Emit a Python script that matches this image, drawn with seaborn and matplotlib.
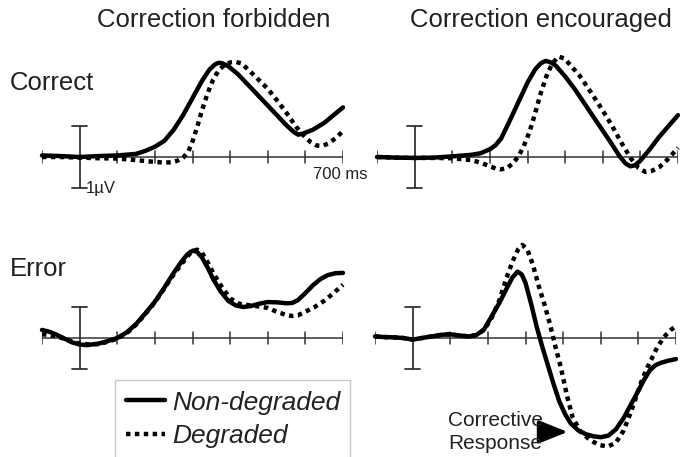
import numpy as np
import pandas as pd
import matplotlib
matplotlib.use('Agg')
import matplotlib.pyplot as plt
import seaborn as sns

sns.set_style('white')
plt.rcParams['font.family'] = ['Liberation Sans', 'DejaVu Sans']

# tiempos (ms) y amplitudes (uV), una serie por curva
t_cf_nd = [-100, -50, 0, 50, 100, 150, 175, 200, 225, 250, 275, 300, 325, 345, 360, 370, 380, 395, 420,
           450, 500, 550, 570, 581, 595, 620, 650, 675, 700]
v_cf_nd = [0.05, 0.03, 0.0, 0.03, 0.05, 0.1, 0.2, 0.33, 0.52, 0.88, 1.35, 1.9, 2.45, 2.82, 2.99, 3.04, 3.02, 2.93, 2.68,
           2.3, 1.66, 1.02, 0.8, 0.72, 0.76, 0.88, 1.1, 1.35, 1.6]
t_cf_deg = [-100, -50, 0, 50, 100, 150, 200, 225, 245, 260, 275, 288, 300, 312, 325, 340, 355, 370, 385, 400,
            414, 430, 450, 475, 500, 525, 550, 575, 600, 615, 630, 645, 660, 680, 700]
v_cf_deg = [0.0, 0.0, -0.02, -0.04, -0.05, -0.1, -0.16, -0.18, -0.17, -0.12, -0.02, 0.15, 0.5, 0.95, 1.5, 2.05, 2.5, 2.8,
            2.97, 3.05, 3.07, 3.02, 2.8, 2.5, 2.2, 1.82, 1.42, 0.98, 0.63, 0.47, 0.37, 0.36, 0.43, 0.6, 0.84]

t_ce_nd = [-100, -50, 0, 50, 100, 150, 175, 200, 215, 230, 250, 275, 300, 320, 335, 348, 360, 375, 400, 425,
           450, 475, 500, 525, 545, 560, 573, 585, 600, 625, 650, 675, 700]
v_ce_nd = [0.0, -0.02, -0.03, -0.02, 0.02, 0.07, 0.12, 0.25, 0.38, 0.6, 1.1, 1.75, 2.4, 2.82, 3.02, 3.1, 3.06, 2.95,
           2.6, 2.2, 1.75, 1.3, 0.85, 0.4, 0.02, -0.2, -0.3, -0.27, -0.12, 0.25, 0.65, 1.0, 1.35]
t_ce_deg = [-100, -50, 0, 50, 100, 150, 175, 200, 215, 228, 245, 260, 275, 290, 305, 320, 335, 350, 365, 382,
            398, 415, 440, 470, 500, 525, 550, 575, 595, 613, 630, 650, 675, 700]
v_ce_deg = [0.0, -0.02, -0.03, -0.03, -0.04, -0.1, -0.18, -0.3, -0.37, -0.4, -0.36, -0.22, 0.0, 0.35, 0.8, 1.4, 2.05,
            2.6, 3.0, 3.24, 3.18, 2.95, 2.6, 2.06, 1.5, 1.0, 0.45, -0.05, -0.35, -0.48, -0.45, -0.33, -0.05, 0.3]

t_ef_nd = [-100, -80, -60, -40, -20, 0, 20, 50, 75, 100, 125, 150, 175, 200, 225, 250, 270, 285, 295, 302,
           312, 325, 340, 355, 375, 395, 415, 435, 455, 475, 500, 525, 550, 565, 580, 600, 620, 640, 660, 680, 700]
v_ef_nd = [0.26, 0.2, 0.1, -0.02, -0.14, -0.21, -0.23, -0.18, -0.1, 0.0, 0.18, 0.45, 0.8, 1.17, 1.62, 2.1, 2.45, 2.68,
           2.78, 2.82, 2.78, 2.6, 2.28, 1.9, 1.5, 1.2, 1.05, 1.0, 1.03, 1.1, 1.16, 1.15, 1.12, 1.13, 1.22, 1.45,
           1.7, 1.9, 2.03, 2.09, 2.1]
t_ef_deg = [-100, -80, -60, -40, -20, 0, 20, 50, 75, 100, 125, 150, 175, 200, 225, 250, 275, 295, 312, 325,
            340, 355, 375, 400, 425, 450, 475, 500, 525, 550, 565, 580, 600, 625, 650, 675, 700]
v_ef_deg = [0.12, 0.1, 0.05, -0.03, -0.12, -0.18, -0.2, -0.2, -0.12, -0.02, 0.15, 0.43, 0.78, 1.15, 1.6, 2.05, 2.45,
            2.75, 2.85, 2.75, 2.45, 2.1, 1.7, 1.28, 1.1, 1.06, 1.02, 0.97, 0.84, 0.74, 0.71, 0.73, 0.85, 1.0, 1.2,
            1.45, 1.72]

t_ee_nd = [-100, -75, -50, -25, 0, 25, 50, 75, 100, 125, 150, 170, 190, 210, 230, 250, 265, 279, 290, 300,
           315, 330, 345, 360, 375, 390, 405, 420, 440, 460, 480, 500, 520, 540, 560, 580, 600, 615, 630, 645,
           660, 680, 700]
v_ee_nd = [0.05, 0.03, 0.02, 0.0, -0.05, 0.0, 0.05, 0.1, 0.12, 0.08, 0.05, 0.1, 0.28, 0.7, 1.12, 1.6, 1.95, 2.14,
           2.05, 1.78, 1.1, 0.35, -0.3, -0.9, -1.5, -2.05, -2.45, -2.75, -2.98, -3.1, -3.17, -3.2, -3.15, -2.95,
           -2.6, -2.15, -1.7, -1.35, -1.05, -0.88, -0.8, -0.73, -0.68]
t_ee_deg = [-100, -75, -50, -25, 0, 25, 50, 75, 100, 125, 150, 170, 190, 210, 230, 250, 265, 280, 292, 305,
            320, 335, 350, 365, 380, 395, 410, 425, 445, 470, 495, 519, 540, 560, 575, 590, 605, 620, 635, 650,
            668, 685, 700]
v_ee_deg = [0.05, 0.03, 0.02, 0.0, -0.05, 0.0, 0.05, 0.1, 0.12, 0.08, 0.05, 0.1, 0.26, 0.65, 1.2, 1.95, 2.45, 2.85,
            3.0, 2.85, 2.35, 1.68, 1.1, 0.45, -0.3, -1.0, -1.85, -2.55, -3.0, -3.28, -3.45, -3.5, -3.38, -3.0,
            -2.55, -2.05, -1.5, -1.05, -0.68, -0.3, 0.03, 0.25, 0.38]

ticks_ms = [-100, 100, 200, 300, 400, 500, 600, 700]
col_titles = ['Correction forbidden', 'Correction encouraged']
row_titles = ['Correct', 'Error']
conds = ['Non-degraded', 'Degraded']

W, H = 680, 457
fig = plt.figure(figsize=(6.8, 4.57), dpi=100)
UNIT = 31.0  # px por uV


def place(left, right, base, ylo, yhi):
    bottom = base + (-ylo) * UNIT
    ax = fig.add_axes([left / W, (H - bottom) / H, (right - left) / W, (yhi - ylo) * UNIT / H])
    ax.set_xlim(-100, 700)
    ax.set_ylim(ylo, yhi)
    ax.axis('off')
    return ax


panels = [
    (place(42, 343, 157, -2, 3.6), (t_cf_nd, v_cf_nd), (t_cf_deg, v_cf_deg)),
    (place(377, 678, 157, -2, 3.6), (t_ce_nd, v_ce_nd), (t_ce_deg, v_ce_deg)),
    (place(42, 343, 338, -3.8, 3.2), (t_ef_nd, v_ef_nd), (t_ef_deg, v_ef_deg)),
    (place(375, 676, 338, -3.8, 3.2), (t_ee_nd, v_ee_nd), (t_ee_deg, v_ee_deg)),
]

ax_col = '#333333'
for ax, nd, deg in panels:
    ax.plot([-100, 700], [0, 0], color=ax_col, lw=1.1, zorder=1)
    for tk in ticks_ms:
        ax.plot([tk, tk], [-0.2, 0.2], color=ax_col, lw=1.1, zorder=1)
    ax.plot([0, 0], [-1, 1], color=ax_col, lw=1.3, zorder=1)
    ax.plot([-20, 20], [1, 1], color=ax_col, lw=1.3, zorder=1)
    ax.plot([-20, 20], [-1, -1], color=ax_col, lw=1.3, zorder=1)
    df = pd.DataFrame({'time': nd[0] + deg[0], 'uv': nd[1] + deg[1],
                       'cond': [conds[0]] * len(nd[0]) + [conds[1]] * len(deg[0])})
    sns.lineplot(data=df, x='time', y='uv', style='cond', dashes={conds[0]: '', conds[1]: (1, 1)},
                 color='black', lw=3.2, legend=False, ax=ax, zorder=3, sort=False, estimator=None)
    for ln in ax.lines[-2:]:
        ln.set_clip_on(False)
        ln.set_solid_capstyle('round')
        ln.set_solid_joinstyle('round')
    ax.axis('off')

txt = '#222222'
fig.text(214 / W, 1 - 20 / H, col_titles[0], ha='center', va='center', fontsize=18.5, color=txt)
fig.text(541 / W, 1 - 20 / H, col_titles[1], ha='center', va='center', fontsize=18.5, color=txt)
fig.text(10 / W, 1 - 83 / H, row_titles[0], ha='left', va='center', fontsize=18.5, color=txt)
fig.text(10 / W, 1 - 269 / H, row_titles[1], ha='left', va='center', fontsize=18.5, color=txt)

ax0 = panels[0][0]
ax0.text(17, -1, '1µV', ha='left', va='center', fontsize=12, color=txt)
ax0.text(620, -0.58, '700 ms', ha='left', va='center', fontsize=12, color=txt)

ax3 = panels[3][0]
ax3.annotate('Corrective\nResponse', xy=(412, -3.03), xytext=(346, -3.03), ha='right', va='center',
             multialignment='left', fontsize=15, color=txt, linespacing=1.25,
             arrowprops=dict(arrowstyle='-|>,head_length=0.8,head_width=0.32', color='black',
                             lw=2.5, mutation_scale=22, shrinkA=2, shrinkB=0))

handles = [plt.Line2D([], [], color='black', lw=3.2),
           plt.Line2D([], [], color='black', lw=3.2, ls=(0, (1, 1)))]
leg = fig.legend(handles, conds, loc='upper left', bbox_to_anchor=(115 / W, 1 - 380 / H),
                 frameon=True, fancybox=False, prop={'size': 19, 'style': 'italic'},
                 handlelength=1.48, handletextpad=0.27, borderpad=0.4, borderaxespad=0,
                 labelspacing=0.35)
leg.get_frame().set_edgecolor('#bbbbbb')
leg.get_frame().set_linewidth(1)
for tx in leg.get_texts():
    tx.set_color(txt)

fig.savefig('out.png', dpi=100)
